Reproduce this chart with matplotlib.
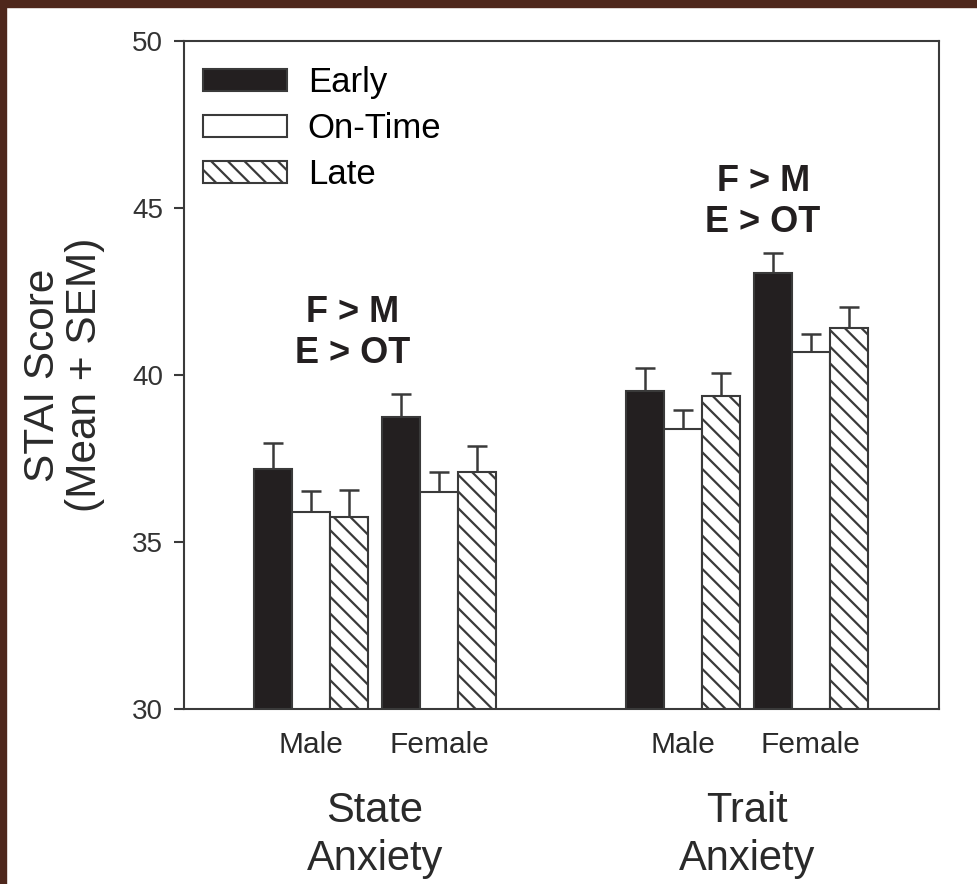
import numpy as np
import matplotlib.pyplot as plt
from matplotlib.patches import Rectangle

plt.rcParams['font.family'] = ['Liberation Sans', 'DejaVu Sans']
plt.rcParams['hatch.linewidth'] = 1.6
plt.rcParams['hatch.color'] = '#231f20'

series = ['Early', 'On-Time', 'Late']
sexes = ['Male', 'Female']
scale_lines = [['State', 'Anxiety'], ['Trait', 'Anxiety']]

# means, order: State Male, State Female, Trait Male, Trait Female
early_mean = [37.2, 38.75, 39.53, 43.04]
ontime_mean = [35.9, 36.5, 38.38, 40.68]
late_mean = [35.75, 37.09, 39.37, 41.4]
early_sem = [0.77, 0.69, 0.69, 0.62]
ontime_sem = [0.63, 0.6, 0.56, 0.54]
late_sem = [0.8, 0.77, 0.69, 0.65]

stat_lines = ['F > M', 'E > OT']

group_x = np.array([0, 3.37, 9.8, 13.15])
ink = '#231f20'
edge = '#3a3a3a'
txt = '#2a2a2a'

fig = plt.figure(figsize=(9.77, 8.84), dpi=100)
ax = fig.add_axes([184 / 977, 1 - 709 / 884, 755 / 977, 668 / 884])

styles = [dict(color=ink, edgecolor=edge, hatch=None),
          dict(color='white', edgecolor=edge, hatch=None),
          dict(color='white', edgecolor=edge, hatch='\\\\')]
means = [early_mean, ontime_mean, late_mean]
sems = [early_sem, ontime_sem, late_sem]

handles = []
for i in range(3):
    xs = group_x + (i - 1)
    b = ax.bar(xs, means[i], width=1.0, bottom=0, linewidth=1.5,
               label=series[i], zorder=2, **styles[i])
    handles.append(b)
    ax.errorbar(xs, means[i], yerr=[np.zeros(4), sems[i]], fmt='none',
                ecolor=edge, elinewidth=1.8, capsize=7.5, capthick=1.8, zorder=1)

ax.set_ylim(30, 50)
ax.set_xlim(-3.34, 16.53)
ax.set_yticks([30, 35, 40, 45, 50])
ax.tick_params(axis='y', direction='out', length=7, width=1.5, color=edge,
               labelsize=20, labelcolor='#333333', pad=8)
ax.set_xticks(group_x)
ax.set_xticklabels(sexes * 2, fontsize=21.5, color=txt)
ax.tick_params(axis='x', length=0, pad=16)
for s in ax.spines.values():
    s.set_linewidth(1.5)
    s.set_color(edge)

ax.set_ylabel('STAI Score\n(Mean + SEM)', fontsize=30.5, color=txt,
              linespacing=1.05)
ax.yaxis.set_label_coords(-0.105, 0.5)


def px2y(p):
    # pixel row in the figure -> data value on the y axis
    return 30 + (709 - p) / 33.4


def px2a(p):
    # pixel row in the figure -> axes fraction
    return (709 - p) / 668


for k, lines in enumerate(scale_lines):
    cx = (group_x[2 * k] + group_x[2 * k + 1]) / 2
    for row, base in zip(lines, [822, 870]):
        ax.text(cx, px2a(base), row, transform=ax.get_xaxis_transform(),
                ha='center', va='baseline', fontsize=30, color=txt)

for cx, bases in [(1.1, [322, 363]), (11.9, [191, 232])]:
    for row, base in zip(stat_lines, bases):
        ax.text(cx, px2y(base), row, ha='center', va='baseline', fontsize=26,
                fontweight='bold', color=ink)

ax.legend(handles=handles, loc='upper left', frameon=False, fontsize=25,
          handlelength=2.42, handleheight=0.58, handletextpad=0.6,
          labelspacing=0.38, borderaxespad=0, borderpad=0,
          bbox_to_anchor=(19 / 755, px2a(66)))

# dark frame along the top and left edges
fig.patches.append(Rectangle((0, 1 - 7 / 884), 1, 7 / 884, transform=fig.transFigure,
                             color='#4e271c', zorder=10))
fig.patches.append(Rectangle((0, 0), 6 / 977, 1, transform=fig.transFigure,
                             color='#4e271c', zorder=10))

fig.savefig('out.png', dpi=100)
